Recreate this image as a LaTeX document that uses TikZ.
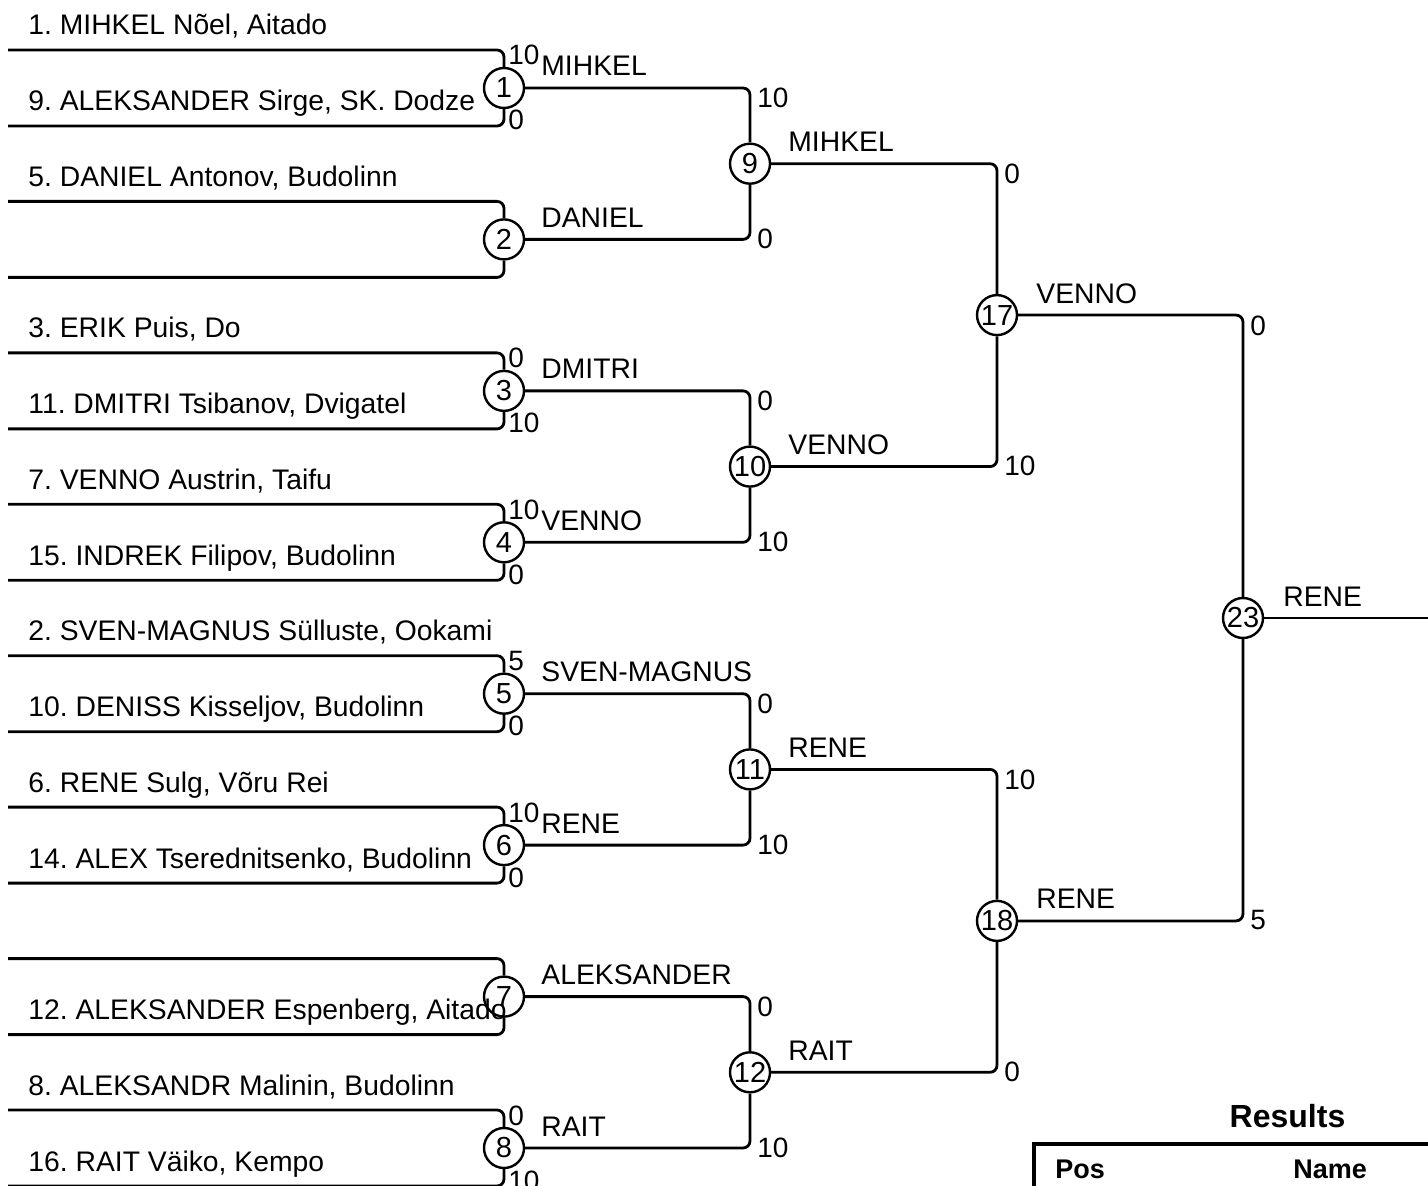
\documentclass[tikz,border=0pt]{standalone}
\usepackage{fontspec}
\setmainfont{Liberation Sans}
\frenchspacing
\begin{document}
\begin{tikzpicture}[x=0.5pt,y=-0.5pt,
  ln/.style={line width=1.4pt, rounded corners=3.5pt},
  mnode/.style={circle, draw, line width=1.2pt, minimum size=20pt, inner sep=0pt, font=\fontsize{14.5}{16}\selectfont},
  plabel/.style={anchor=base west, inner sep=0pt, font=\fontsize{14.15}{16}\selectfont},
  wlabel/.style={anchor=base west, inner sep=0pt, font=\fontsize{14.15}{16}\selectfont},
  scoretxt/.style={anchor=base west, inner sep=0pt, font=\fontsize{14}{16}\selectfont},
  hdr/.style={anchor=base west, inner sep=0pt, font=\fontsize{13.5}{15}\selectfont\bfseries}]
\useasboundingbox (0,0) rectangle (1428,1186);
\clip (0,0) rectangle (1428,1186);

% ---------- Round 1 ----------
\node[mnode] (m1) at (504,88) {1};
\node[mnode] (m2) at (504,239.4) {2};
\node[mnode] (m3) at (504,390.9) {3};
\node[mnode] (m4) at (504,542.3) {4};
\node[mnode] (m5) at (504,693.7) {5};
\node[mnode] (m6) at (504,845.1) {6};
\node[mnode] (m7) at (504,996.6) {7};
\node[mnode] (m8) at (504,1148) {8};

\coordinate (l1a) at (8,50);    \coordinate (l1b) at (8,126);
\coordinate (l2a) at (8,201.4); \coordinate (l2b) at (8,277.4);
\coordinate (l3a) at (8,352.9); \coordinate (l3b) at (8,428.9);
\coordinate (l4a) at (8,504.3); \coordinate (l4b) at (8,580.3);
\coordinate (l5a) at (8,655.7); \coordinate (l5b) at (8,731.7);
\coordinate (l6a) at (8,807.1); \coordinate (l6b) at (8,883.1);
\coordinate (l7a) at (8,958.6); \coordinate (l7b) at (8,1034.6);
\coordinate (l8a) at (8,1110);  \coordinate (l8b) at (8,1186);

\foreach \k in {1,...,8}{
  \draw[ln] (l\k a) -| (m\k.north);
  \draw[ln] (l\k b) -| (m\k.south);
}

\node[plabel] (p1a) at (28,35) {1. MIHKEL Nõel, Aitado};
\node[plabel] (p1b) at (28,111) {9. ALEKSANDER Sirge, SK. Dodze};
\node[plabel] (p2a) at (28,186.4) {5. DANIEL Antonov, Budolinn};
\node[plabel] (p3a) at (28,337.9) {3. ERIK Puis, Do};
\node[plabel] (p3b) at (28,413.9) {11. DMITRI Tsibanov, Dvigatel};
\node[plabel] (p4a) at (28,489.3) {7. VENNO Austrin, Taifu};
\node[plabel] (p4b) at (28,565.3) {15. INDREK Filipov, Budolinn};
\node[plabel] (p5a) at (28,640.7) {2. SVEN-MAGNUS Sülluste, Ookami};
\node[plabel] (p5b) at (28,716.7) {10. DENISS Kisseljov, Budolinn};
\node[plabel] (p6a) at (28,792.1) {6. RENE Sulg, Võru Rei};
\node[plabel] (p6b) at (28,868.1) {14. ALEX Tserednitsenko, Budolinn};
\node[plabel] (p7b) at (28,1019.6) {12. ALEKSANDER Espenberg, Aitado};
\node[plabel] (p8a) at (28,1095) {8. ALEKSANDR Malinin, Budolinn};
\node[plabel] (p8b) at (28,1171) {16. RAIT Väiko, Kempo};

\node[scoretxt] (s1a) at (508,65) {10};   \node[scoretxt] (s1b) at (508,130) {0};
\node[scoretxt] (s3a) at (508,367.9) {0}; \node[scoretxt] (s3b) at (508,432.9) {10};
\node[scoretxt] (s4a) at (508,519.3) {10};\node[scoretxt] (s4b) at (508,584.3) {0};
\node[scoretxt] (s5a) at (508,670.7) {5}; \node[scoretxt] (s5b) at (508,735.7) {0};
\node[scoretxt] (s6a) at (508,822.1) {10};\node[scoretxt] (s6b) at (508,887.1) {0};
\node[scoretxt] (s8a) at (508,1125) {0};  \node[scoretxt] (s8b) at (508,1190) {10};

\node[wlabel] (w1) at (541,76) {MIHKEL};
\node[wlabel] (w2) at (541,227.4) {DANIEL};
\node[wlabel] (w3) at (541,378.9) {DMITRI};
\node[wlabel] (w4) at (541,530.3) {VENNO};
\node[wlabel] (w5) at (541,681.7) {SVEN-MAGNUS};
\node[wlabel] (w6) at (541,833.1) {RENE};
\node[wlabel] (w7) at (541,984.6) {ALEKSANDER};
\node[wlabel] (w8) at (541,1136) {RAIT};

% ---------- Round 2 ----------
\node[mnode] (m9) at (750,163.7) {9};
\node[mnode] (m10) at (750,466.6) {10};
\node[mnode] (m11) at (750,769.4) {11};
\node[mnode] (m12) at (750,1072.3) {12};
\draw[ln] (m1.east) -| (m9.north);  \draw[ln] (m2.east) -| (m9.south);
\draw[ln] (m3.east) -| (m10.north); \draw[ln] (m4.east) -| (m10.south);
\draw[ln] (m5.east) -| (m11.north); \draw[ln] (m6.east) -| (m11.south);
\draw[ln] (m7.east) -| (m12.north); \draw[ln] (m8.east) -| (m12.south);

\node[scoretxt] (s9a) at (757,108) {10};    \node[scoretxt] (s9b) at (757,248.4) {0};
\node[scoretxt] (s10a) at (757,410.9) {0};  \node[scoretxt] (s10b) at (757,551.3) {10};
\node[scoretxt] (s11a) at (757,713.7) {0};  \node[scoretxt] (s11b) at (757,854.1) {10};
\node[scoretxt] (s12a) at (757,1016.6) {0}; \node[scoretxt] (s12b) at (757,1157) {10};

\node[wlabel] (w9) at (788,151.7) {MIHKEL};
\node[wlabel] (w10) at (788,454.6) {VENNO};
\node[wlabel] (w11) at (788,757.4) {RENE};
\node[wlabel] (w12) at (788,1060.3) {RAIT};

% ---------- Round 3 ----------
\node[mnode] (m17) at (997,315.1) {17};
\node[mnode] (m18) at (997,920.9) {18};
\draw[ln] (m9.east) -| (m17.north);  \draw[ln] (m10.east) -| (m17.south);
\draw[ln] (m11.east) -| (m18.north); \draw[ln] (m12.east) -| (m18.south);

\node[scoretxt] (s17a) at (1004,183.7) {0};  \node[scoretxt] (s17b) at (1004,475.6) {10};
\node[scoretxt] (s18a) at (1004,789.4) {10}; \node[scoretxt] (s18b) at (1004,1081.3) {0};

\node[wlabel] (w17) at (1036,303.1) {VENNO};
\node[wlabel] (w18) at (1036,908.9) {RENE};

% ---------- Final ----------
\node[mnode] (m23) at (1243,618) {23};
\draw[ln] (m17.east) -| (m23.north); \draw[ln] (m18.east) -| (m23.south);
\coordinate (fin) at (1440,618);
\draw[ln] (m23.east) -- (fin);
\node[scoretxt] (s23a) at (1250,335.1) {0}; \node[scoretxt] (s23b) at (1250,929.9) {5};
\node[wlabel] (w23) at (1283,606) {RENE};

% ---------- Results ----------
\node[anchor=base, inner sep=0pt, font=\fontsize{16}{18}\selectfont\bfseries] (rtitle) at (1287.5,1127) {Results};
\draw[line width=2.4pt] (1034,1300) -- (1034,1144) -- (1600,1144);
\node[hdr] (hpos) at (1055,1178) {Pos};
\node[hdr] (hname) at (1293,1178) {Name};
\end{tikzpicture}
\end{document}
